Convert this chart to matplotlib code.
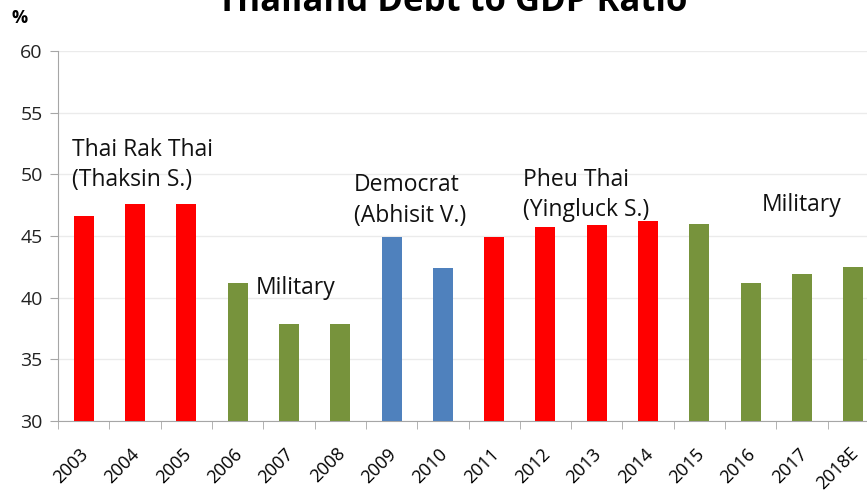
import numpy as np
import matplotlib.pyplot as plt
from matplotlib.transforms import ScaledTranslation

plt.rcParams['font.family'] = ['Open Sans', 'DejaVu Sans']

years = ["2003", "2004", "2005", "2006", "2007", "2008", "2009", "2010",
         "2011", "2012", "2013", "2014", "2015", "2016", "2017", "2018E"]
debt_ratio = [46.6, 47.6, 47.6, 41.2, 37.9, 37.9, 44.9, 42.4,
              44.9, 45.7, 45.9, 46.2, 46.0, 41.2, 41.9, 42.5]
party = ["trt", "trt", "trt", "mil", "mil", "mil", "dem", "dem",
         "pt", "pt", "pt", "pt", "mil", "mil", "mil", "mil"]

colors = {"trt": "#FF0000", "pt": "#FF0000", "mil": "#77933C", "dem": "#4F81BD"}

fig = plt.figure(figsize=(8.67, 4.93), dpi=100)
ax = fig.add_axes([58 / 867, 72 / 493, 821 / 867, 370 / 493])

x = np.arange(len(years))
ax.bar(x, debt_ratio, width=0.39, color=[colors[p] for p in party], zorder=3)

ax.set_xlim(-0.5, len(years) - 0.5)
ax.set_ylim(30, 60)
ax.set_yticks(range(30, 61, 5))
ax.yaxis.grid(True, color="#EBEBEB", linewidth=1, zorder=0)

for s in ["top", "right"]:
    ax.spines[s].set_visible(False)
for s in ["left", "bottom"]:
    ax.spines[s].set_color("#A6A6A6")

ax.tick_params(axis="y", length=6, pad=5, color="#A6A6A6", labelsize=14, labelcolor="#222222")
ax.set_xticks(np.arange(len(years) + 1) - 0.5, minor=True)
ax.set_xticks(x)
ax.tick_params(axis="x", which="minor", length=6, color="#A6A6A6")
ax.tick_params(axis="x", which="major", length=0, labelsize=13, pad=17)
ax.set_xticklabels(years, rotation=45, ha="right", rotation_mode="anchor")
offset = ScaledTranslation(-3 / 72, 0, fig.dpi_scale_trans)
for lab in ax.get_xticklabels():
    lab.set_transform(lab.get_transform() + offset)

txt = dict(fontsize=16.5, va="center", ha="left", color="#111111")
ax.text(-0.23, 52.0, "Thai Rak Thai", **txt)
ax.text(-0.23, 49.5, "(Thaksin S.)", **txt)
ax.text(3.36, 40.8, "Military", **txt)
ax.text(5.27, 49.1, "Democrat", **txt)
ax.text(5.27, 46.6, "(Abhisit V.)", **txt)
ax.text(8.56, 49.5, "Pheu Thai", **txt)
ax.text(8.56, 47.1, "(Yingluck S.)", **txt)
ax.text(13.22, 47.5, "Military", **txt)

fig.text(12 / 867, 1 - 18 / 493, "%", fontsize=13, fontweight="bold", va="center", ha="left")
fig.text(452 / 867, 1 - 2 / 493, "Thailand Debt to GDP Ratio", fontsize=25,
         fontweight="bold", va="center", ha="center")

fig.savefig("out.png", dpi=100)
